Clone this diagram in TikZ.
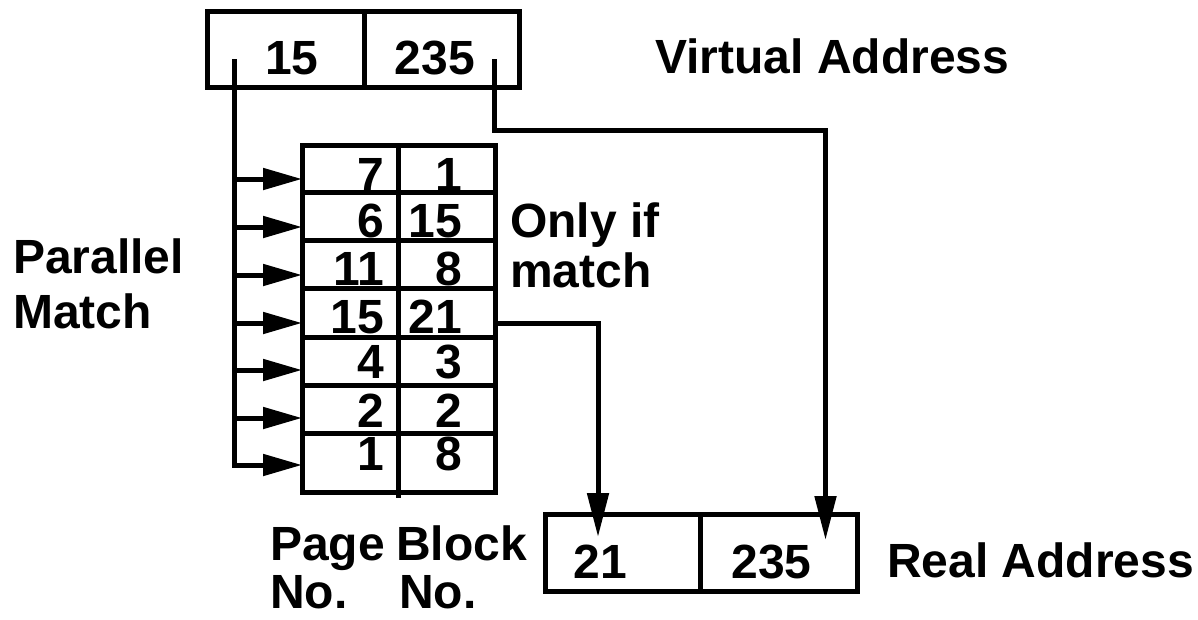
\documentclass[tikz,border=0pt]{standalone}
\usepackage{fontspec}
\setmainfont{Liberation Sans}
\usetikzlibrary{arrows.meta}
\begin{document}
\begin{tikzpicture}[x=1pt,y=-1pt,
  wire/.style={line width=5pt},
  cell/.style={draw, line width=5pt, inner sep=0pt, outer sep=0pt},
  txt/.style={inner sep=0pt, font=\fontsize{48}{56}\selectfont\bfseries},
  hhead/.style={-{Triangle[length=39pt,width=21pt]}},
  vhead/.style={-{Triangle[length=44pt,width=21pt]}}]
\useasboundingbox (0,0) rectangle (1198,619);

% virtual address register
\node[cell, minimum width=157pt, minimum height=76pt] (va15)  at (286,49.5) {};
\node[cell, minimum width=155pt, minimum height=76pt] (va235) at (442,49.5) {};
\node[txt, anchor=base] (va15t)  at (292,74) {15};
\node[txt, anchor=base] (va235t) at (435,74) {235};
\coordinate (vpage) at (234.5,59);
\coordinate (voff)  at (494.5,59);

% associative table: page no. / block no.
\foreach \i/\c/\h/\p/\b/\base in {
    1/168.5/47/7/1/191,
    2/216/48/6/15/237,
    3/264/48/11/8/285.5,
    4/312.5/49/15/21/333,
    5/361/48/4/3/378,
    6/409/48/2/2/427,
    7/462.75/59.5/1/8/470.5}{
  \node[cell, minimum width=96.5pt, minimum height=\h pt] (pg\i) at (350.25,\c) {};
  \node[cell, minimum width=96.5pt, minimum height=\h pt] (bk\i) at (446.75,\c) {};
  \node[txt, anchor=base east] (pgv\i) at (384,\base) {\p};
  \node[txt, anchor=base east] (bkv\i) at (462,\base) {\b};
}
\draw[wire] (bk7.south west) -- ++(0,5);

% real address register
\node[cell, minimum width=155pt, minimum height=76.5pt] (ra21)  at (623,552.75) {};
\node[cell, minimum width=157pt, minimum height=76.5pt] (ra235) at (779,552.75) {};
\node[txt, anchor=base] (ra21t)  at (600,578) {21};
\node[txt, anchor=base] (ra235t) at (771.5,578) {235};
\coordinate (rpage) at (598,537);
\coordinate (roff)  at (825.5,540);

% parallel match bus
\draw[wire, hhead] (vpage) |- (pg7.west |- 0,465);
\foreach \i/\y in {1/179,2/227,3/275,4/323,5/370,6/418}{
  \draw[wire, hhead] (vpage |- 0,\y) -- (pg\i.west |- 0,\y);
}

% matched block number and offset
\draw[wire, vhead] (bk4.east |- 0,323) -| (rpage);
\draw[wire, vhead] (voff) -- (voff |- 0,130.5) -| (roff);

% labels
\node[txt, anchor=base west] (lva) at (655,73) {Virtual Address};
\node[txt, anchor=base west] (lonly) at (510,237) {Only if};
\node[txt, anchor=base west] (lmatch) at (510,287) {match};
\node[txt, anchor=base west] (lpar) at (13,273) {Parallel};
\node[txt, anchor=base west] (lpm) at (13,328) {Match};
\node[txt, anchor=base west] (lra) at (887,577) {Real Address};
\node[txt, anchor=base west] (lpage) at (270,560) {Page};
\node[txt, anchor=base west] (lblock) at (396,560) {Block};
\node[txt, anchor=base west] (lpno) at (270,608) {No.};
\node[txt, anchor=base west] (lbno) at (399,608) {No.};
\end{tikzpicture}
\end{document}
